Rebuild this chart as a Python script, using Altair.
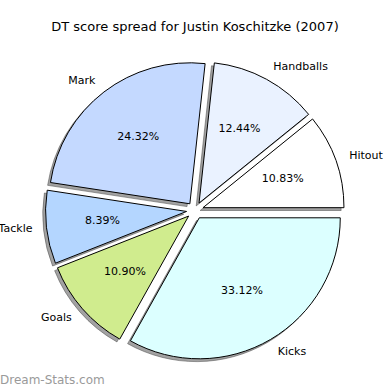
import altair as alt
import pandas as pd

# Data (order: counter-clockwise from 3 o'clock, as in the source)
categories = ["Hitout", "Handballs", "Mark", "Tackle", "Goals", "Kicks"]
percent = [10.83, 12.44, 24.32, 8.39, 10.90, 33.12]
colors = ["#ffffff", "#eaf2ff", "#c4d9ff", "#b4d6ff", "#d0ec8e", "#dcffff"]
pct_labels = ["10.83%", "12.44%", "24.32%", "8.39%", "10.90%", "33.12%"]

EXPLODE = 0.06
R = 141  # pie radius in px (1 data unit)

df = pd.DataFrame({
    "cat": categories,
    "val": percent,
    "col": colors,
    "pct": pct_labels,
    "idx": list(range(len(categories))),
})

PI = 3.141592653589793
W, H = 390, 345
cx_px, cy_px = 195, 165.5
xdom = [-cx_px / R, (W - cx_px) / R]
ydom = [(cy_px - H) / R, cy_px / R]

base = alt.Chart(df).transform_window(
    cum="sum(val)", sort=[alt.SortField("idx")], frame=[None, 0]
).transform_joinaggregate(
    total="sum(val)"
).transform_calculate(
    a0=f"(datum.cum - datum.val) / datum.total * 2 * {PI}",
    a1=f"datum.cum / datum.total * 2 * {PI}",
).transform_calculate(
    mid="(datum.a0 + datum.a1) / 2",
    vs=f"{PI}/2 - datum.a1",
    ve=f"{PI}/2 - datum.a0",
).transform_calculate(
    cx=f"{EXPLODE} * cos(datum.mid)",
    cy=f"{EXPLODE} * sin(datum.mid)",
).transform_calculate(
    sx="datum.cx - 0.02",
    sy="datum.cy - 0.02",
    px="datum.cx + 0.6 * cos(datum.mid)",
    py="datum.cy + 0.6 * sin(datum.mid)",
    lx="datum.cx + 1.1 * cos(datum.mid)",
    ly="datum.cy + 1.1 * sin(datum.mid)",
)

xs = alt.Scale(domain=xdom, nice=False, zero=False)
ys = alt.Scale(domain=ydom, nice=False, zero=False)

shadow = base.mark_arc(
    outerRadius=R, fill="#454545", fillOpacity=0.5,
    stroke="#454545", strokeOpacity=0.5, strokeWidth=1
).encode(
    x=alt.X("sx:Q", scale=xs, axis=None),
    y=alt.Y("sy:Q", scale=ys, axis=None),
    theta=alt.Theta("vs:Q", scale=None),
    theta2="ve:Q",
)

wedges = base.mark_arc(
    outerRadius=R, stroke="black", strokeWidth=1
).encode(
    x=alt.X("cx:Q", scale=xs, axis=None),
    y=alt.Y("cy:Q", scale=ys, axis=None),
    theta=alt.Theta("vs:Q", scale=None),
    theta2="ve:Q",
    fill=alt.Fill("col:N", scale=None),
)

pcts = base.mark_text(
    font="DejaVu Sans", fontSize=11, color="black", align="center", baseline="middle"
).encode(
    x=alt.X("px:Q", scale=xs, axis=None),
    y=alt.Y("py:Q", scale=ys, axis=None),
    text="pct:N",
)

labels_right = base.transform_filter("cos(datum.mid) >= 0").mark_text(
    font="DejaVu Sans", fontSize=11, color="black", align="left", baseline="middle"
).encode(
    x=alt.X("lx:Q", scale=xs, axis=None),
    y=alt.Y("ly:Q", scale=ys, axis=None),
    text="cat:N",
)

labels_left = base.transform_filter("cos(datum.mid) < 0").mark_text(
    font="DejaVu Sans", fontSize=11, color="black", align="right", baseline="middle"
).encode(
    x=alt.X("lx:Q", scale=xs, axis=None),
    y=alt.Y("ly:Q", scale=ys, axis=None),
    text="cat:N",
)

watermark = alt.Chart(pd.DataFrame({"t": ["Dream-Stats.com"]})).mark_text(
    font="DejaVu Sans", fontSize=12, fontWeight="normal", color="#9a9a9a",
    align="left", baseline="middle"
).encode(
    x=alt.value(0), y=alt.value(335), text="t:N"
)

chart = alt.layer(shadow, wedges, pcts, labels_right, labels_left, watermark).properties(
    width=W, height=H,
    background="white",
    padding={"left": 0, "top": 45, "right": 0, "bottom": 0},
    autosize=alt.AutoSizeParams(type="none"),
    title=alt.TitleParams(
        "DT score spread for Justin Koschitzke (2007)",
        font="DejaVu Sans", fontSize=13, fontWeight="normal", color="black",
        anchor="middle", offset=11,
    ),
).configure_view(stroke=None, strokeWidth=0)

chart.save("out.html", embed_options={"renderer": "svg", "actions": False})
